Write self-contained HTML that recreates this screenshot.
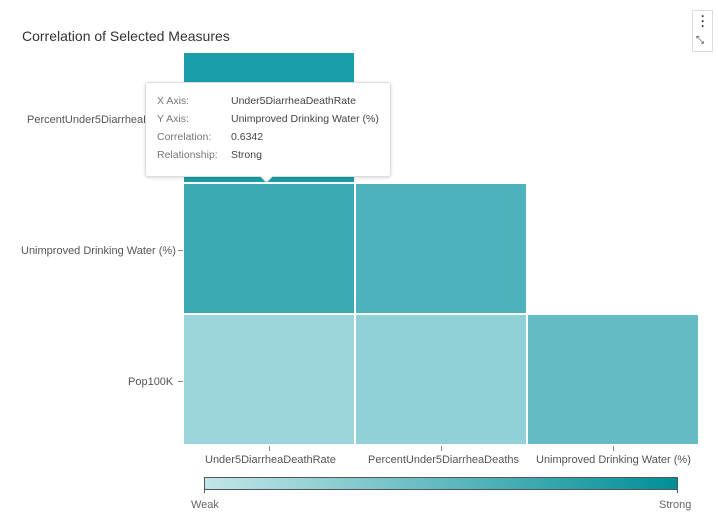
<!DOCTYPE html>
<html><head><style>
body{margin:0;width:718px;height:522px;background:#fff;font-family:"Liberation Sans",sans-serif;position:relative;overflow:hidden}
.a{position:absolute}
.c{position:absolute}
.t{font-size:11px;color:#555;position:absolute;white-space:nowrap}
</style></head><body>
<div class="a" style="left:22px;top:28px;font-size:14px;color:#333">Correlation of Selected Measures</div>
<div class="a" style="left:692px;top:10px;width:19px;height:40px;border:1px solid #ddd;background:#fff"></div>
<div class="a" style="left:701px;top:14px;font-size:12px;line-height:5px;color:#333;font-weight:bold">·<br>·<br>·</div>
<div class="a" style="left:696px;top:35px;font-size:10px;color:#333">⤡</div>

<div class="c" style="left:184px;top:53px;width:170px;height:129px;background:#1a9fa9"></div>
<div class="c" style="left:184px;top:184px;width:170px;height:129px;background:#3aaab4"></div>
<div class="c" style="left:356px;top:184px;width:170px;height:129px;background:#4db2bb"></div>
<div class="c" style="left:184px;top:315px;width:170px;height:129px;background:#9dd5dc"></div>
<div class="c" style="left:356px;top:315px;width:170px;height:129px;background:#90d0d7"></div>
<div class="c" style="left:528px;top:315px;width:170px;height:129px;background:#66bcc5"></div>

<div class="t" style="left:27px;top:114px">PercentUnder5DiarrheaDeaths</div>
<div class="t" style="left:21px;top:245px">Unimproved Drinking Water (%)</div>
<div class="t" style="left:128px;top:376px">Pop100K</div>
<div class="a" style="left:178px;top:250px;width:5px;height:1px;background:#888"></div>
<div class="a" style="left:178px;top:381px;width:5px;height:1px;background:#888"></div>
<div class="a" style="left:269px;top:446px;width:1px;height:5px;background:#888"></div>
<div class="a" style="left:441px;top:446px;width:1px;height:5px;background:#888"></div>
<div class="a" style="left:613px;top:446px;width:1px;height:5px;background:#888"></div>
<div class="t" style="left:205px;top:454px">Under5DiarrheaDeathRate</div>
<div class="t" style="left:368px;top:454px">PercentUnder5DiarrheaDeaths</div>
<div class="t" style="left:536px;top:454px">Unimproved Drinking Water (%)</div>

<div class="a" style="left:145px;top:82px;width:244px;height:93px;background:#fff;border:1px solid #ddd;border-radius:3px;box-shadow:0 1px 3px rgba(0,0,0,.15);z-index:2"></div>
<div class="a" style="left:262px;top:172px;width:8px;height:8px;background:#fff;transform:rotate(45deg);border-right:1px solid #ddd;border-bottom:1px solid #ddd;z-index:3"></div>
<div style="position:absolute;z-index:4;left:157px;top:92px;font-size:10.5px;line-height:18px;color:#777">X Axis:<br>Y Axis:<br>Correlation:<br>Relationship:</div>
<div style="position:absolute;z-index:4;left:231px;top:92px;font-size:10.5px;line-height:18px;color:#444">Under5DiarrheaDeathRate<br>Unimproved Drinking Water (%)<br>0.6342<br>Strong</div>

<div class="a" style="left:204px;top:477px;width:472px;height:11px;border:1px solid #555;background:linear-gradient(to right,#c2e6e8,#008f98)"></div>
<div class="a" style="left:204px;top:489px;width:1px;height:4px;background:#555"></div>
<div class="a" style="left:677px;top:489px;width:1px;height:4px;background:#555"></div>
<div class="t" style="left:191px;top:499px;color:#666">Weak</div>
<div class="t" style="left:659px;top:499px;color:#666">Strong</div>
</body></html>
